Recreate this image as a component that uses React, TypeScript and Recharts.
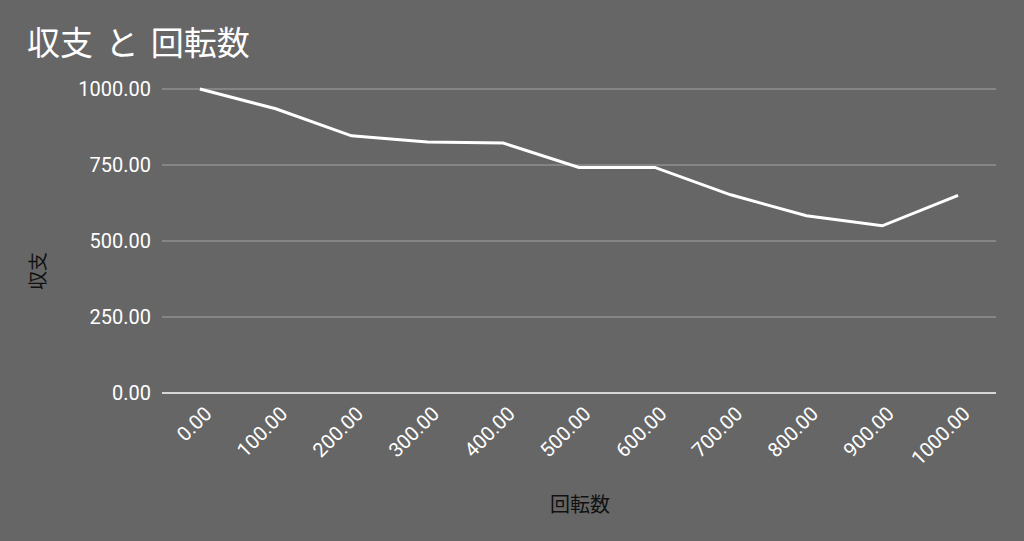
import React from 'react';
import { LineChart, Line, XAxis, YAxis, CartesianGrid, Label } from 'recharts';

const rotations = [0, 100, 200, 300, 400, 500, 600, 700, 800, 900, 1000];
const balance = [1000, 935, 846, 826, 822, 742, 742, 652, 583, 550, 650];
const yTicks = [0, 250, 500, 750, 1000];
const chartTitle = '収支 と 回転数';
const xTitle = '回転数';
const yTitle = '収支';

const data = rotations.map((r, i) => ({ rotation: r, balance: balance[i] }));

const LATIN = 'Roboto, "Liberation Sans", Arial, sans-serif';
const CJK = '"Noto Sans CJK JP", "Noto Sans", sans-serif';

const XTick = (props: any) => {
  const { x, y, payload } = props;
  const ax = x + 3;
  const ay = y + 12;
  return (
    <text
      x={ax}
      y={ay}
      dy="0.71em"
      transform={`rotate(-45, ${ax}, ${ay})`}
      textAnchor="end"
      fill="#ffffff"
      fontSize={20}
      fontFamily={LATIN}
    >
      {Number(payload.value).toFixed(2)}
    </text>
  );
};

export default function App() {
  return (
    <div style={{ position: 'absolute', left: 0, top: 0, width: 1024, height: 541, background: '#666666', overflow: 'hidden' }}>
      <div
        style={{
          position: 'absolute',
          left: 27,
          top: 25,
          fontSize: 33,
          lineHeight: '33px',
          wordSpacing: '5px',
          color: '#ffffff',
          fontFamily: CJK,
          whiteSpace: 'pre',
        }}
      >
        {chartTitle}
      </div>
      <LineChart
        width={1024}
        height={541}
        data={data}
        margin={{ top: 89, right: 28, bottom: 0, left: 0 }}
      >
        <CartesianGrid vertical={false} stroke="#a3a3a3" strokeWidth={1} />
        <XAxis
          dataKey="rotation"
          type="category"
          scale="band"
          height={148}
          axisLine={{ stroke: '#f2f2f2', strokeWidth: 1.5 }}
          tickLine={false}
          tickSize={0}
          tickMargin={0}
          interval={0}
          tick={<XTick />}
        >
          <Label
            content={() => (
              <text x={580} y={503} textAnchor="middle" dominantBaseline="central" fill="#111111" fontSize={20} fontFamily={CJK}>
                {xTitle}
              </text>
            )}
          />
        </XAxis>
        <YAxis
          type="number"
          domain={[0, 1000]}
          ticks={yTicks}
          width={162}
          axisLine={false}
          tickLine={false}
          tickSize={0}
          tickMargin={11}
          tick={{ fill: '#ffffff', fontSize: 20, fontFamily: LATIN }}
          tickFormatter={(v: number) => v.toFixed(2)}
        >
          <Label
            content={() => (
              <text
                x={36}
                y={271}
                transform="rotate(-90, 36, 271)"
                textAnchor="middle"
                dominantBaseline="central"
                fill="#111111"
                fontSize={19}
                fontFamily={CJK}
              >
                {yTitle}
              </text>
            )}
          />
        </YAxis>
        <Line
          type="linear"
          dataKey="balance"
          stroke="#ffffff"
          strokeWidth={3}
          dot={false}
          activeDot={false}
          isAnimationActive={false}
        />
      </LineChart>
    </div>
  );
}
